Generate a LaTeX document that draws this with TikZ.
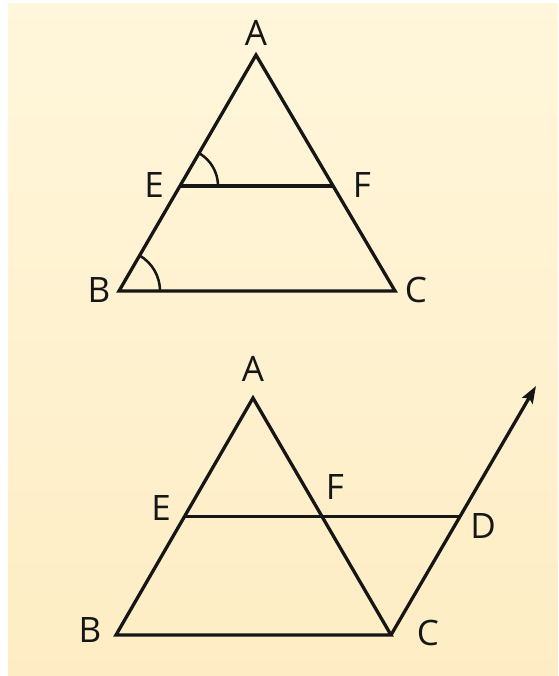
\documentclass[tikz,border=0pt]{standalone}
\usepackage{fontspec}
\setmainfont{Open Sans}
\usetikzlibrary{arrows.meta,calc}
\definecolor{paper}{HTML}{FFF6DB}
\definecolor{paperlow}{HTML}{FEEDC4}
\definecolor{ink}{HTML}{161616}
\tikzset{
  lbl/.style={font=\fontsize{35}{37}\selectfont,text=ink,inner sep=0pt},
  side/.style={draw=ink,line width=3.3pt},
  angmark/.style={draw=ink,line width=2.5pt},
  arr/.style={-{Stealth[length=17pt,width=12pt,inset=3pt]},draw=ink,line width=3.3pt}
}

\begin{document}
\begin{tikzpicture}[x=1pt,y=1pt]
\useasboundingbox (0,0) rectangle (558,676);
\fill[white] (0,0) rectangle (558,676);
\shade[top color=paper,bottom color=paperlow] (8,0) rectangle (558,672);

% upper figure: EF parallel to BC
\coordinate (A1) at (256,621);
\coordinate (B1) at (119,385);
\coordinate (C1) at (395,385);
\coordinate (E1) at (180,490);
\coordinate (F1) at (333,490);
\draw[side] (A1) -- (B1) -- (C1) -- cycle;
\draw[side] (E1) -- (F1);
\draw[angmark] ($(E1)+(38,0)$) arc[start angle=0,end angle=60,radius=38pt];
\draw[angmark] ($(B1)+(41,0)$) arc[start angle=0,end angle=60,radius=41pt];
\node[lbl] (la1) at (256,643) {A};
\node[lbl] (le1) at (154,491) {E};
\node[lbl] (lf1) at (362,491) {F};
\node[lbl] (lb1) at (99,386) {B};
\node[lbl] (lc1) at (416,386) {C};

% lower figure: CD drawn parallel to BA
\coordinate (A2) at (253,278);
\coordinate (B2) at (116,41);
\coordinate (C2) at (391,41);
\coordinate (E2) at (184.5,159.5);
\coordinate (F2) at (322,159.5);
\coordinate (D2) at (459.5,159.5);
\coordinate (T2) at (536,290);
\draw[side] (A2) -- (B2) -- (C2) -- cycle;
\draw[side] (E2) -- (D2);
\draw[arr] (C2) -- (T2);
\node[lbl] (la2) at (253,307) {A};
\node[lbl] (le2) at (161,168) {E};
\node[lbl] (lf2) at (335,189) {F};
\node[lbl] (ld2) at (483,150) {D};
\node[lbl] (lb2) at (90,46) {B};
\node[lbl] (lc2) at (428,43) {C};
\end{tikzpicture}
\end{document}
